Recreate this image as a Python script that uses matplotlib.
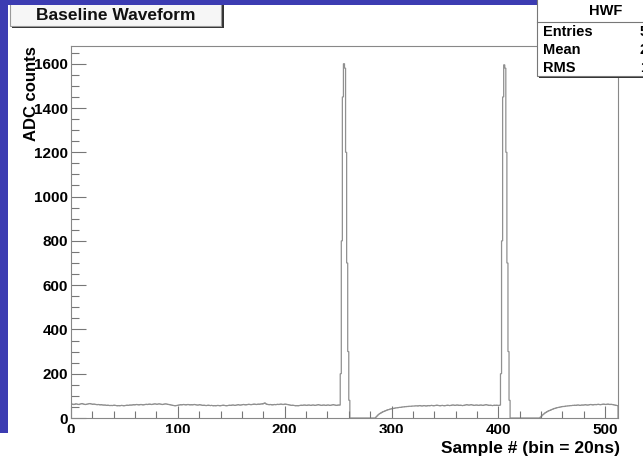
import numpy as np
import matplotlib
matplotlib.use('Agg')
import matplotlib.pyplot as plt
from matplotlib.patches import Rectangle
from matplotlib.ticker import MultipleLocator, FixedLocator
from matplotlib.lines import Line2D

# ---------------- data (ADC counts per sample bin) ----------------
counts = [
    62, 63, 61, 62, 64, 63, 62, 61, 63, 64, 65, 63, 62, 61, 62, 63,
    64, 65, 64, 63, 62, 63, 62, 61, 60, 61, 60, 59, 60, 59, 58, 59,
    58, 57, 58, 57, 56, 57, 56, 57, 58, 57, 56, 55, 56, 55, 56, 57,
    56, 55, 56, 57, 58, 57, 58, 59, 58, 59, 60, 59, 60, 61, 60, 59,
    60, 61, 60, 59, 60, 61, 62, 61, 62, 63, 62, 61, 62, 63, 64, 63,
    62, 63, 64, 63, 62, 61, 62, 63, 64, 63, 62, 61, 60, 59, 58, 57,
    56, 55, 56, 57, 58, 59, 60, 59, 60, 61, 60, 59, 60, 61, 60, 59,
    60, 59, 60, 61, 60, 59, 58, 59, 60, 59, 58, 57, 58, 57, 56, 57,
    58, 57, 56, 57, 56, 55, 56, 55, 56, 57, 56, 55, 56, 57, 58, 57,
    56, 55, 56, 57, 58, 57, 58, 59, 58, 57, 58, 59, 60, 59, 58, 59,
    60, 61, 60, 59, 60, 61, 62, 61, 60, 61, 62, 63, 62, 61, 62, 63,
    62, 63, 64, 63, 66, 68, 64, 62, 61, 60, 61, 60, 59, 60, 61, 60,
    61, 62, 61, 62, 63, 62, 61, 62, 63, 62, 61, 60, 59, 58, 57, 58,
    57, 56, 55, 56, 55, 56, 57, 58, 57, 58, 59, 58, 57, 58, 59, 58,
    57, 58, 59, 58, 57, 58, 59, 60, 59, 58, 57, 58, 59, 58, 57, 58,
    59, 58, 57, 58, 59, 60, 59, 58, 57, 58, 59, 58, 200, 800, 1450, 1600,
    1580, 1200, 700, 300, 80, 0, 0, 0, 0, 0, 0, 0, 0, 0, 0, 0,
    0, 0, 0, 0, 0, 0, 0, 0, 0, 0, 0, 0, 0, 4, 9, 14,
    18, 21, 24, 27, 29, 31, 33, 35, 37, 38, 40, 41, 42, 43, 44, 45,
    46, 46, 47, 48, 48, 49, 50, 50, 51, 51, 52, 52, 53, 53, 53, 54,
    54, 54, 55, 55, 54, 55, 56, 55, 54, 55, 56, 55, 54, 55, 56, 55,
    56, 57, 56, 55, 56, 57, 58, 57, 56, 55, 56, 57, 56, 55, 56, 57,
    58, 57, 56, 57, 58, 59, 58, 57, 58, 59, 58, 57, 58, 57, 56, 57,
    58, 59, 60, 59, 58, 59, 60, 59, 58, 57, 58, 59, 58, 57, 58, 59,
    58, 57, 58, 59, 60, 59, 58, 57, 58, 57, 56, 57, 58, 57, 58, 57,
    57, 58, 200, 800, 1450, 1595, 1580, 1200, 700, 300, 80, 0, 0, 0, 0, 0,
    0, 0, 0, 0, 0, 0, 0, 0, 0, 0, 0, 0, 0, 0, 0, 0,
    0, 0, 0, 0, 0, 0, 0, 4, 9, 14, 18, 22, 25, 28, 31, 33,
    35, 37, 39, 41, 43, 44, 46, 47, 48, 49, 50, 51, 52, 52, 53, 54,
    54, 55, 55, 56, 56, 57, 57, 58, 57, 58, 59, 58, 57, 58, 59, 58,
    59, 60, 59, 58, 59, 60, 61, 60, 59, 60, 61, 60, 61, 62, 61, 60,
    61, 62, 63, 62, 61, 62, 63, 62, 61, 62, 61, 60, 59, 58, 57, 56,
]
x_major_ticks = [0, 100, 200, 300, 400, 500]
y_major_ticks = [0, 200, 400, 600, 800, 1000, 1200, 1400, 1600]

title_text = "Baseline Waveform"
x_label = "Sample # (bin = 20ns)"
y_label = "ADC counts"
stats_name = "HWF"
stats_labels = ["Entries", "Mean", "RMS"]
stats_values = ["512", "255.6", "147.3"]

# ---------------- figure ----------------
W, H = 643, 458
FONT = "Liberation Sans"
BLUE = "#3c3cb2"

fig = plt.figure(figsize=(W / 100, H / 100), dpi=100)
fig.patch.set_facecolor("white")


def frect(x, y, w, h, **kw):
    """rectangle in pixel coords measured from the top-left corner"""
    r = Rectangle((x / W, 1 - (y + h) / H), w / W, h / H,
                  transform=fig.transFigure, **kw)
    fig.add_artist(r)
    return r


def fline(xs, ys, **kw):
    l = Line2D([x / W for x in xs], [1 - y / H for y in ys],
               transform=fig.transFigure, **kw)
    fig.add_artist(l)


ax = fig.add_axes([71 / W, 1 - 418 / H, 547 / W, 372 / H])
edges = np.arange(len(counts) + 1)
ax.stairs(counts, edges, color="#909090", lw=0.9)
ax.set_xlim(0, 512)
ax.set_ylim(0, 1680)

ax.xaxis.set_major_locator(FixedLocator(x_major_ticks))
ax.xaxis.set_minor_locator(MultipleLocator(20))
ax.yaxis.set_major_locator(FixedLocator(y_major_ticks))
ax.yaxis.set_minor_locator(MultipleLocator(50))
ax.tick_params(which="both", direction="in", top=False, right=False,
               color="#777777", width=0.8)
ax.tick_params(axis="x", which="major", length=9, pad=3.5)
ax.tick_params(axis="x", which="minor", length=5)
ax.tick_params(axis="y", which="major", length=11, pad=2)
ax.tick_params(axis="y", which="minor", length=5.5)
for lab in ax.get_xticklabels() + ax.get_yticklabels():
    lab.set_fontfamily(FONT)
    lab.set_fontweight("bold")
    lab.set_fontsize(11)
for sp in ax.spines.values():
    sp.set_color("#888888")
    sp.set_linewidth(0.8)

# axis titles
fig.text(32 / W, 1 - 46 / H, y_label, rotation=90, ha="center", va="top",
         fontfamily=FONT, fontweight="bold", fontsize=12, zorder=5)
fig.text(620 / W, 1 - 448 / H, x_label, ha="right", va="center",
         fontfamily=FONT, fontweight="bold", fontsize=12.5)

# white cover at bottom-left (cropped screenshot)
frect(0, 433, 436, 30, facecolor="white", edgecolor="none", zorder=20)

# blue slide background strips
frect(0, 0, 8, 433, facecolor=BLUE, edgecolor="none", zorder=21)

# title box with shadow
frect(12, 2, 212, 26, facecolor="#333333", edgecolor="none", zorder=22)
frect(10, 0, 211, 26, facecolor="#f6f6f6", edgecolor="#999999", lw=0.8, zorder=23)
fig.text(116 / W, 1 - 15 / H, title_text, ha="center", va="center",
         fontfamily=FONT, fontweight="bold", fontsize=12.5, color="#111111", zorder=24)

frect(0, 0, 537, 5, facecolor=BLUE, edgecolor="none", zorder=25)

# stats box
frect(539, 0, 120, 78, facecolor="#333333", edgecolor="none", zorder=26)
frect(537, -2, 120, 78, facecolor="white", edgecolor="#777777", lw=0.8, zorder=27)
fline([537, 643], [22, 22], color="#777777", lw=0.8, zorder=28)
fig.text(606 / W, 1 - 11 / H, stats_name, ha="center", va="center",
         fontfamily=FONT, fontweight="bold", fontsize=10.5, zorder=29)
for i, (lab, val) in enumerate(zip(stats_labels, stats_values)):
    yy = 32 + 18 * i
    fig.text(543 / W, 1 - yy / H, lab, ha="left", va="center",
             fontfamily=FONT, fontweight="bold", fontsize=10.5, zorder=29)
    fig.text(640 / W, 1 - yy / H, val, ha="left", va="center",
             fontfamily=FONT, fontweight="bold", fontsize=10.5, zorder=29)

fig.savefig("out.png", dpi=100)
